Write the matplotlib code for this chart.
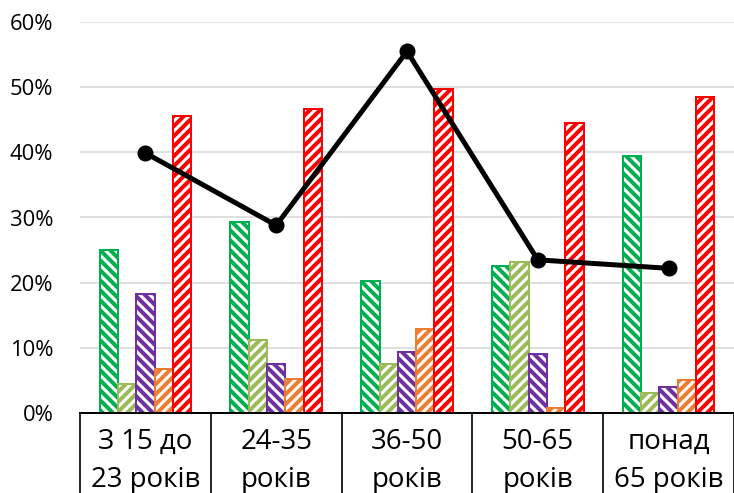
import matplotlib.pyplot as plt
import matplotlib.transforms as mtransforms
import numpy as np

plt.rcParams['font.family'] = ['Open Sans', 'DejaVu Sans']
plt.rcParams['hatch.linewidth'] = 2.4

# data
groups_top = ['З 15 до', '24-35', '36-50', '50-65', 'понад']
groups_bottom = ['23 років', 'років', 'років', 'років', '65 років']
s_green = [25.0, 29.3, 20.3, 22.5, 39.5]
s_lgreen = [4.5, 11.2, 7.5, 23.2, 3.0]
s_purple = [18.2, 7.5, 9.4, 9.0, 4.0]
s_orange = [6.8, 5.2, 12.9, 0.7, 5.0]
s_red = [45.6, 46.7, 49.7, 44.5, 48.5]
line_vals = [39.9, 28.8, 55.5, 23.5, 22.2]

series = [
	(s_green, '#00B050', '\\' * 4),
	(s_lgreen, '#9BBB59', '/' * 4),
	(s_purple, '#7030A0', '\\' * 4),
	(s_orange, '#ED7D31', '/' * 4),
	(s_red, '#FF0000', '/' * 4),
]

dpi = 120
fig = plt.figure(figsize = (734 / dpi, 493 / dpi), dpi = dpi)
ax = fig.add_axes([80 / 734, 80 / 493, 654 / 734, 391 / 493])

x = np.arange(len(groups_top))
w = 0.14
for i, (vals, col, hatch) in enumerate(series):
	ax.bar(x + (i - 2) * w, np.array(vals) / 100, width = w,
		facecolor = 'white', edgecolor = col, hatch = hatch,
		linewidth = 1.2, zorder = 2)

ax.plot(x, np.array(line_vals) / 100, color = 'black', linewidth = 3,
	marker = 'o', markersize = 8.6, zorder = 3)

ax.set_xlim(-0.5, len(x) - 0.5)
ax.set_ylim(0, 0.6)
ax.set_yticks(np.arange(0, 0.61, 0.1))
ax.set_yticklabels([f'{int(round(v * 100))}%' for v in np.arange(0, 0.61, 0.1)], fontsize = 13.2)
ax.tick_params(axis = 'y', length = 0, pad = 16)
ax.set_xticks([])
ax.grid(axis = 'y', color = '#d9d9d9', linewidth = 1.0, zorder = 0)
ax.set_axisbelow(True)
for s in ['left', 'right', 'top']:
	ax.spines[s].set_visible(False)
ax.spines['bottom'].set_linewidth(1.2)
ax.spines['bottom'].set_zorder(4)

# category boxes under the axis
trans = mtransforms.blended_transform_factory(ax.transData, ax.transAxes)
for b in np.arange(-0.5, len(x), 1.0):
	ax.plot([b, b], [0, -0.25], color = 'black', linewidth = 1.0,
		transform = trans, clip_on = False)
for i in range(len(x)):
	ax.text(i, -0.0921, groups_top[i], transform = trans, ha = 'center',
		va = 'baseline', fontsize = 16.6)
	ax.text(i, -0.1893, groups_bottom[i], transform = trans, ha = 'center',
		va = 'baseline', fontsize = 16.6)

fig.savefig('out.png', dpi = dpi)
